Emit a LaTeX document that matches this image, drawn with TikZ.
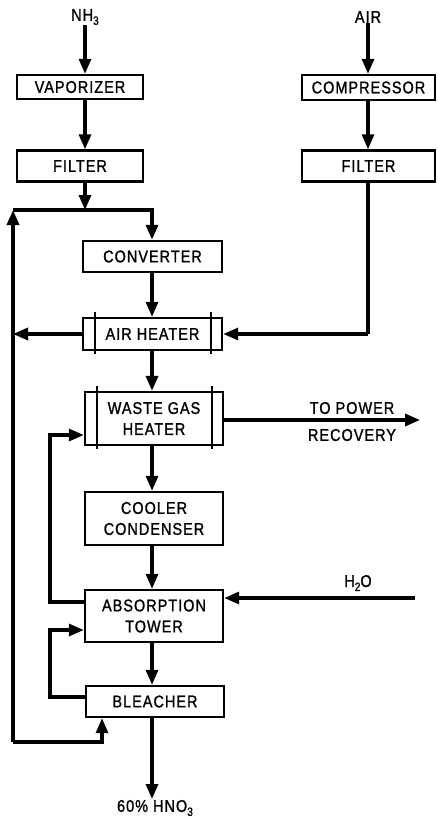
\documentclass[tikz,border=0pt]{standalone}
\usepackage{fontspec}
\setmainfont{Liberation Sans}[FakeStretch=0.85,LetterSpace=6,FakeBold=1.2]
\usetikzlibrary{arrows.meta,calc}
\newcommand\lowsub[1]{\raisebox{-0.45ex}{\fontsize{12}{12}\selectfont #1}}
\begin{document}
\begin{tikzpicture}[x=1pt,y=-1pt,
  box/.style={draw,line width=2.4pt,rectangle,inner sep=0pt,align=center,
    font=\fontsize{17}{21}\selectfont},
  lbl/.style={inner sep=0pt,align=center,font=\fontsize{17}{21}\selectfont},
  flow/.style={line width=3.2pt,-{Triangle[length=15pt,width=12pt]}},
  pipe/.style={line width=3.2pt},
  inner/.style={line width=1.8pt}]
\useasboundingbox (0,0) rectangle (437,821);
% boxes
\node[box,minimum width=126pt,minimum height=24pt] (vap) at (80,87) {VAPORIZER};
\node[box,minimum width=126pt,minimum height=31pt] (filL) at (80,166) {FILTER};
\node[box,minimum width=133pt,minimum height=25pt] (comp) at (368.5,87.5) {COMPRESSOR};
\node[box,minimum width=133pt,minimum height=31pt] (filR) at (368.5,166) {FILTER};
\node[box,minimum width=139pt,minimum height=31pt] (conv) at (152.5,256.5) {CONVERTER};
\node[box,minimum width=139pt,minimum height=32pt] (airh) at (152.5,334) {AIR HEATER};
\node[box,minimum width=138pt,minimum height=53pt] (wgh) at (154,418.5) {WASTE GAS\\HEATER};
\node[box,minimum width=138pt,minimum height=53pt] (cool) at (154,518.5) {COOLER\\CONDENSER};
\node[box,minimum width=138pt,minimum height=52pt] (abs) at (154,616) {ABSORPTION\\TOWER};
\node[box,minimum width=138pt,minimum height=31pt] (blea) at (155,701.5) {BLEACHER};
% inner heat-exchanger lines
\foreach \n in {airh,wgh}{
  \draw[inner] ([xshift=13pt,yshift=5pt]\n.north west) -- ([xshift=13pt,yshift=-3pt]\n.south west);
  \draw[inner] ([xshift=-12pt,yshift=5pt]\n.north east) -- ([xshift=-12pt,yshift=-3pt]\n.south east);
}
% labels
\node[lbl] (nh3) at (85,17) {NH\lowsub{3}};
\node[lbl] (air) at (368,17) {AIR};
\node[lbl] (h2o) at (358,583) {H\lowsub{2}O};
\node[lbl] (pw1) at (352,408) {TO POWER};
\node[lbl] (pw2) at (352,435) {RECOVERY};
\node[lbl] (hno3) at (155,808) {60\% HNO\lowsub{3}};
% coordinates
\coordinate (jA) at (85,210);
\coordinate (tl) at (13,210);
\coordinate (tr) at (152,210);
\coordinate (bl) at (13,742);
\coordinate (br) at (102,742);
\coordinate (rc) at (368,334);
\coordinate (pwr) at (420,420);
\coordinate (h2oin) at (415,598);
\coordinate (prod) at (152,799);
\coordinate (l1t) at (50,435);
\coordinate (l1b) at (50,602);
\coordinate (l2t) at (50,630);
\coordinate (l2b) at (50,697);
% NH3 line
\draw[flow] (nh3.south) -- (vap.north -| nh3);
\draw[flow] (vap.south -| nh3) -- (filL.north -| nh3);
\draw[flow] (filL.south -| nh3) -- (jA);
% air line
\draw[flow] (air.south) -- (comp.north -| air);
\draw[flow] (comp.south -| air) -- (filR.north -| air);
\draw[pipe] (filR.south -| air) -- (rc);
\draw[flow] (rc) -- (airh.east |- rc);
% recycle loop
\draw[flow] (tl) -- (tr) -- (conv.north -| tr);
\draw[flow] (bl) -- (tl);
\draw[flow] (bl) -- (br) -- (blea.south -| br);
% main column
\draw[flow] (conv.south -| tr) -- (airh.north -| tr);
\draw[flow] (airh.west) -- (tl |- airh.west);
\draw[flow] (airh.south -| tr) -- (wgh.north -| tr);
\draw[flow] (wgh.east |- pwr) -- (pwr);
\draw[flow] (wgh.south -| tr) -- (cool.north -| tr);
\draw[flow] (cool.south -| tr) -- (abs.north -| tr);
\draw[flow] (h2oin) -- (abs.east |- h2oin);
\draw[flow] (abs.south -| tr) -- (blea.north -| tr);
\draw[flow] (blea.south -| tr) -- (prod);
% side loops
\draw[flow] (abs.west |- l1b) -- (l1b) -- (l1t) -- (wgh.west |- l1t);
\draw[flow] (blea.west |- l2b) -- (l2b) -- (l2t) -- (abs.west |- l2t);
\end{tikzpicture}
\end{document}
